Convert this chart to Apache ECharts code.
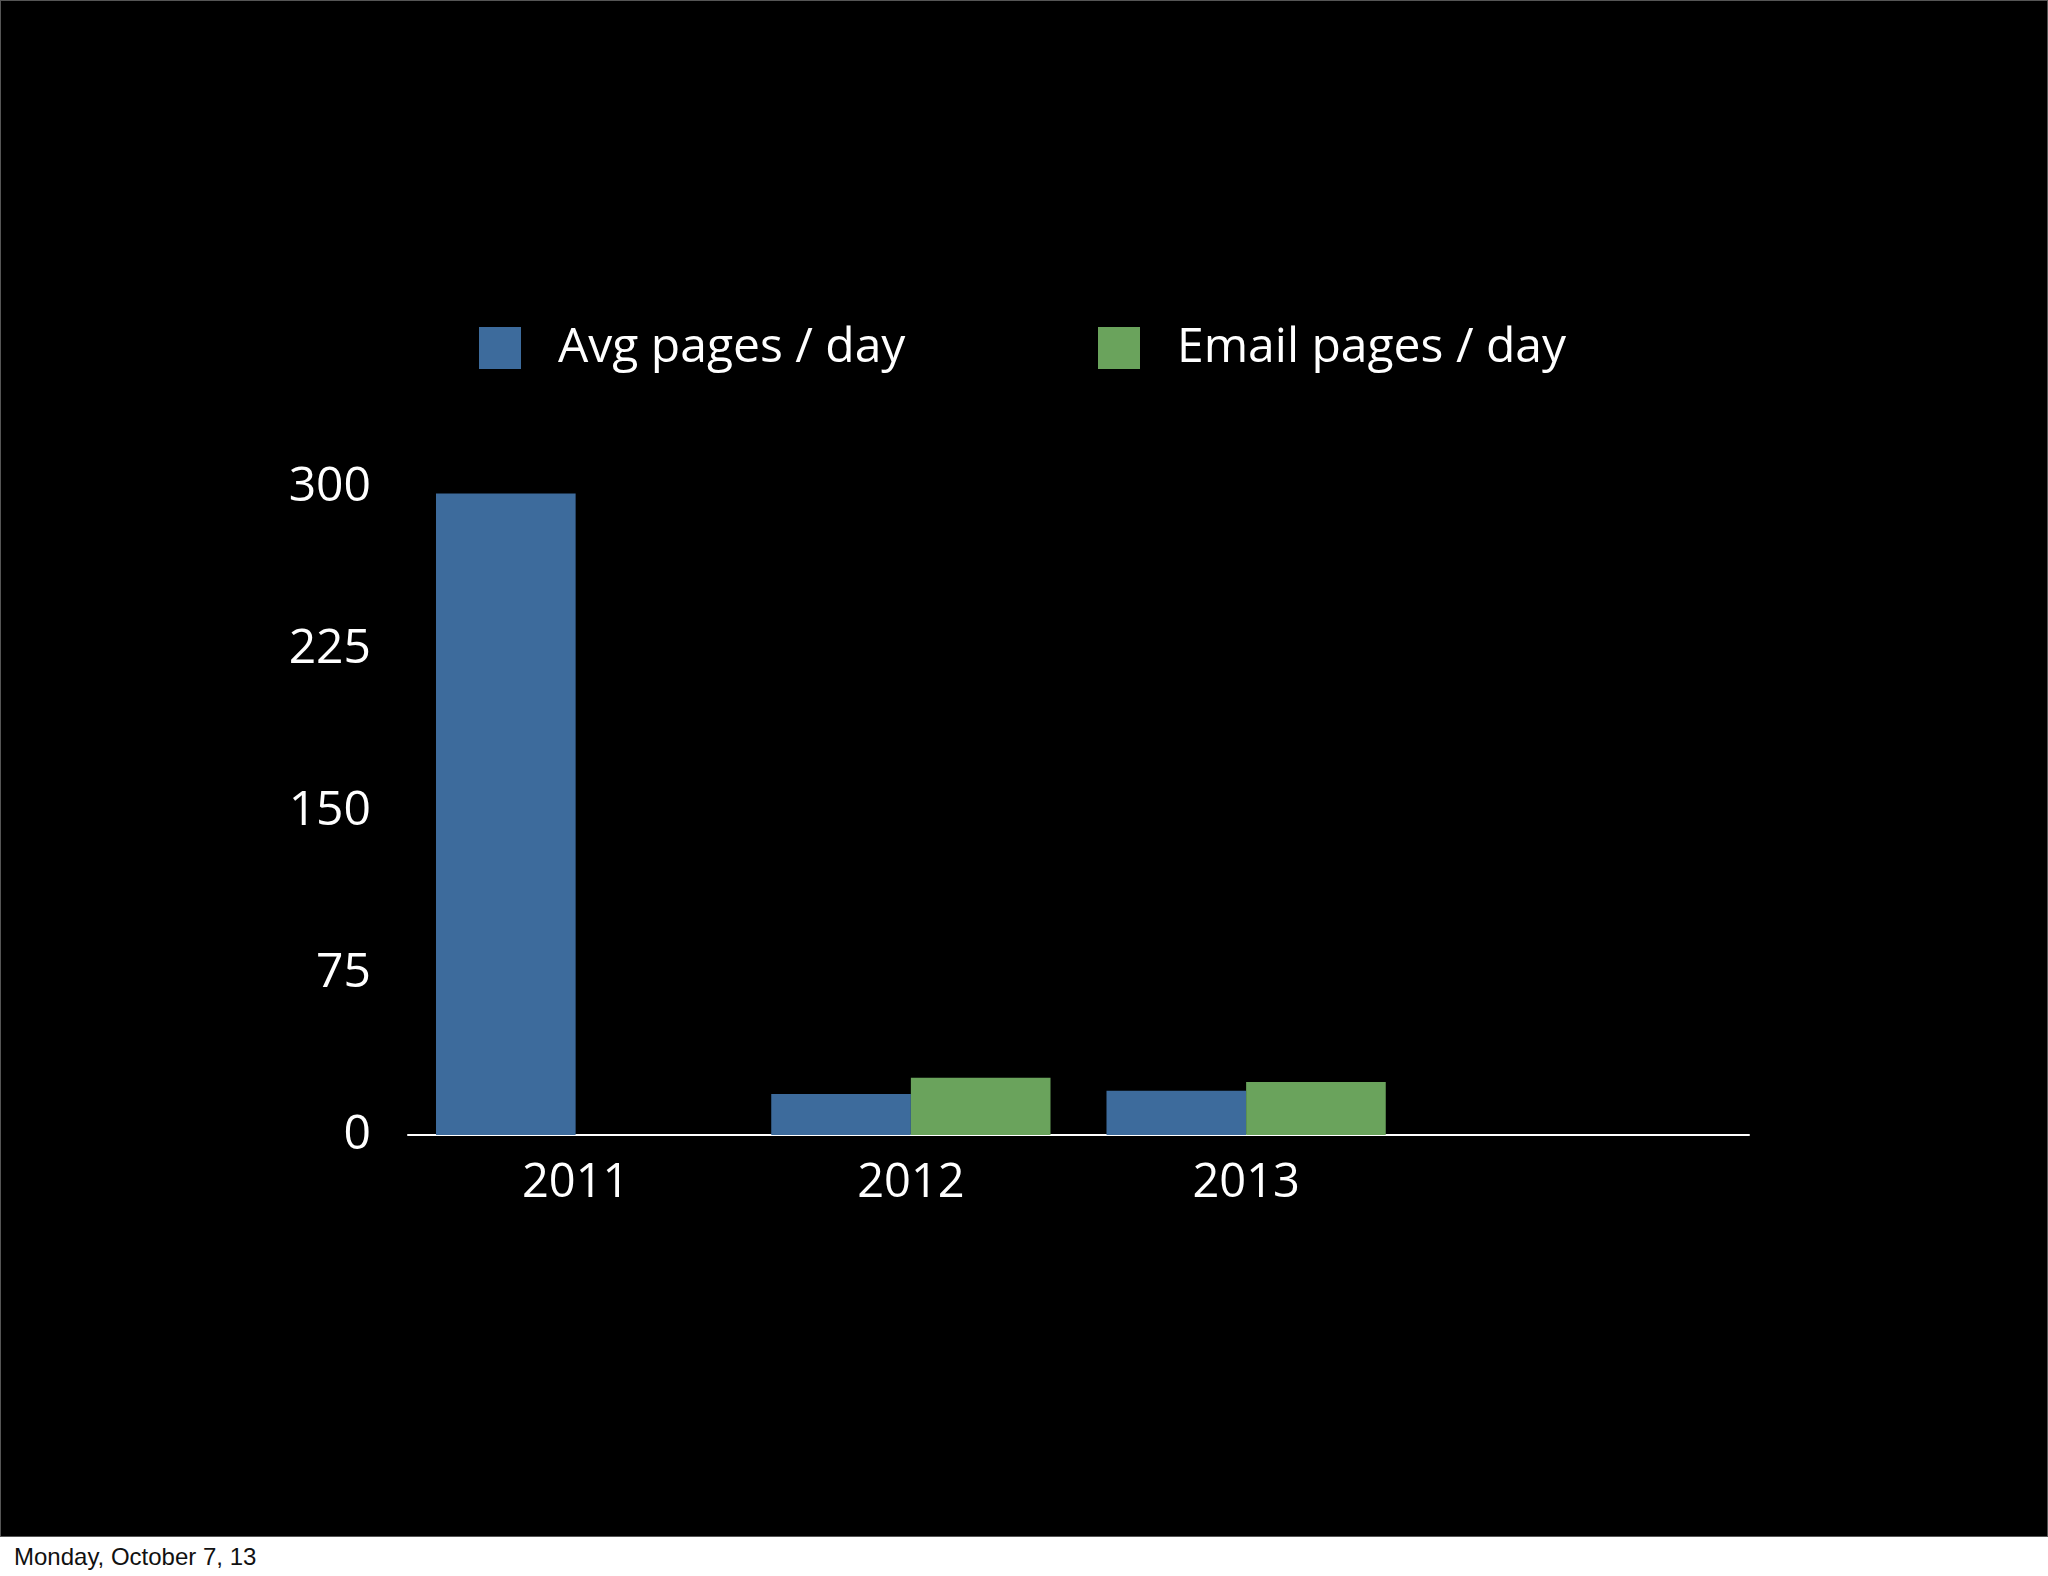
<!DOCTYPE html>
<html>
<head>
<meta charset="utf-8">
<script src="https://cdn.jsdelivr.net/npm/echarts@6/dist/echarts.min.js"></script>
<style>
  html, body { margin: 0; padding: 0; background: #fff; }
  #slide { width: 2046px; height: 1535px; background: #000; border: 1px solid #555; }
  #footer { font-family: "Liberation Sans", Arial, sans-serif; font-size: 24px; color: #111; padding: 6px 0 0 14px; }
</style>
</head>
<body>
<div id="slide"></div>
<div id="footer">Monday, October 7, 13</div>
<script>
const years = ['2011', '2012', '2013', ''];
const avgPages = [297, 19, 20.5, null];
const emailPages = [null, 26.5, 24.5, null];
const yTicks = { min: 0, max: 300, interval: 75 };

const font = '"Open Sans", Lato, sans-serif';
const blue = '#3d6b9c';
const green = '#6aa35c';

const chart = echarts.init(document.getElementById('slide'));

chart.setOption({
  backgroundColor: '#000',
  animation: false,
  textStyle: { fontFamily: font },
  legend: [
    {
      data: ['Avg pages / day'],
      left: 473, top: 318,
      itemWidth: 42, itemHeight: 42,
      icon: 'rect',
      textStyle: { color: '#fff', fontSize: 48, fontFamily: font, padding: [0, 0, 0, 32] }
    },
    {
      data: ['Email pages / day'],
      left: 1092, top: 318,
      itemWidth: 42, itemHeight: 42,
      icon: 'rect',
      textStyle: { color: '#fff', fontSize: 48, fontFamily: font, padding: [0, 0, 0, 32] }
    }
  ],
  grid: { left: 407, right: 298, top: 486, bottom: 401, containLabel: false },
  xAxis: {
    type: 'category',
    data: years,
    axisLine: { lineStyle: { color: '#fff', width: 2 } },
    axisTick: { show: false },
    axisLabel: { color: '#fff', fontSize: 47, fontFamily: font, margin: 25 }
  },
  yAxis: {
    type: 'value',
    min: yTicks.min, max: yTicks.max, interval: yTicks.interval,
    splitLine: { show: false },
    axisLine: { show: false },
    axisTick: { show: false },
    axisLabel: { color: '#fff', fontSize: 48, fontFamily: font, margin: 37 }
  },
  series: [
    {
      name: 'Avg pages / day',
      type: 'bar',
      data: avgPages,
      itemStyle: { color: blue },
      barGap: 0,
      barCategoryGap: '16.7%'
    },
    {
      name: 'Email pages / day',
      type: 'bar',
      data: emailPages,
      itemStyle: { color: green },
      barGap: 0,
      barCategoryGap: '16.7%'
    }
  ]
});
</script>
</body>
</html>
